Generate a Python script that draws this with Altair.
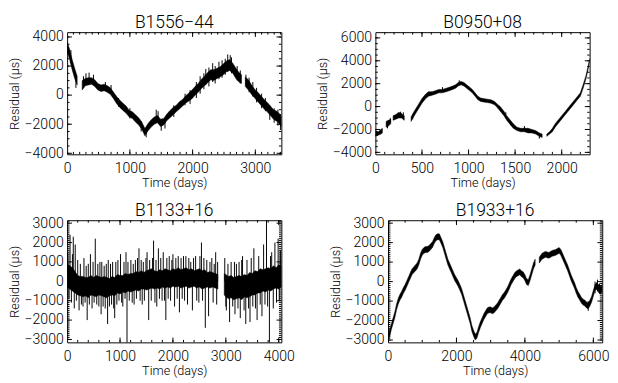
import altair as alt
import pandas as pd

# ---------------- data ----------------
# B1556-44 : envelope (low / high) of the residual trace, plus single spikes
p1_t  = [0, 40, 80, 120, 160,
         240, 290, 340, 390, 440, 490, 540, 590, 640, 690, 740, 790, 840, 890, 940, 990,
         1040, 1090, 1140, 1190, 1240, 1290, 1340, 1390, 1440, 1490, 1540, 1590, 1640, 1690,
         1740, 1790, 1840, 1890, 1940, 1990, 2040, 2090, 2140, 2190, 2240, 2290, 2340, 2390,
         2440, 2490, 2540, 2590, 2640, 2690, 2740, 2780,
         2840, 2890, 2940, 2990, 3040, 3090, 3140, 3190, 3240, 3290, 3340, 3390, 3415]
p1_lo = [3000, 2450, 1750, 1150, 700,
         350, 650, 700, 750, 600, 350, 250, 300, 200, 50, -250, -600, -850, -1050, -1250, -1500,
         -1600, -1850, -2050, -2350, -2800, -2450, -2200, -2000, -1900, -2150, -2050, -1750, -1550, -1350,
         -1150, -950, -750, -550, -400, -250, 0, 200, 450, 650, 850, 1050, 1000, 1150,
         1250, 1400, 1600, 1700, 1500, 1150, 900, 800,
         600, 350, 50, -200, -450, -700, -950, -1150, -1400, -1650, -1800, -2000, -2200]
p1_hi = [3650, 3150, 2450, 1850, 1300,
         1000, 1150, 1200, 1200, 1050, 800, 700, 750, 650, 500, 200, -100, -350, -550, -750, -1050,
         -1150, -1350, -1550, -1850, -2300, -1950, -1700, -1500, -1400, -1650, -1600, -1300, -1050, -850,
         -700, -450, -300, -50, 150, 350, 600, 800, 1100, 1300, 1550, 1750, 1750, 1850,
         1950, 2150, 2350, 2450, 2200, 1850, 1550, 1400,
         1250, 1050, 700, 400, 200, -50, -300, -500, -750, -1000, -1100, -1300, -1500]
p1_breaks = [240, 2840]
p1_spk_t  = [60, 140, 260, 300, 350, 420, 610, 700, 820, 1000, 1180, 1260, 1420, 1450, 1500, 1560,
             1700, 1880, 1960, 2060, 2120, 2180, 2210, 2260, 2320, 2360, 2420, 2470, 2520, 2560,
             2600, 2620, 2710, 2760, 2850, 2900, 2960, 3020, 3100, 3160, 3230, 3300, 3360, 3400]
p1_spk_y1 = [2200, 500, 700, 900, 900, 700, 300, 100, -800, -1600, -2500, -2900, -1800, -1800,
             -2450, -2300, -1500, -700, -600, -200, 100, 400, 700, 600, 900, 800, 1100, 1200, 1400,
             1600, 1700, 1500, 1000, 800, 700, 200, -100, -500, -900, -1100, -1700, -1900, -2100, -2400]
p1_spk_y2 = [3100, 1100, 1300, 1500, 1550, 1400, 900, 700, -200, -900, -1800, -2400, -1000, -1100,
             -1800, -1700, -700, 100, 350, 900, 1300, 1500, 1800, 1900, 2200, 2000, 2300, 2400, 2500,
             2800, 2750, 2600, 2000, 1700, 1400, 1200, 900, 500, 100, -200, -700, -900, -1000, -1300]

# B0950+08
p2_t  = [0, 30, 60, 75,
         115, 140, 165,
         190, 220, 250, 280, 310,
         383, 410, 440, 470, 500, 540, 570, 610, 650, 680, 720, 760, 800, 830, 860, 890, 920, 950,
         980, 1010, 1040, 1070, 1100, 1130, 1160, 1200, 1240, 1280, 1310, 1340, 1380, 1410, 1450,
         1480, 1520, 1560, 1600, 1640, 1680, 1720, 1760, 1790,
         1840, 1870, 1900, 1930, 1960, 2000, 2040, 2080, 2120, 2160, 2200, 2230, 2260, 2280, 2300]
p2_lo = [-2600, -2500, -2400, -2300,
         -1800, -1700, -1500,
         -1200, -1100, -1000, -1000, -1200,
         -1300, -900, -500, -100, 300, 700, 900, 1000, 1100, 1200, 1200, 1300, 1400, 1500, 1600, 1800, 1900, 1800,
         1600, 1400, 1200, 900, 600, 450, 400, 350, 300, 150, -100, -400, -800, -1200, -1600,
         -1900, -2100, -2200, -2200, -2300, -2300, -2400, -2600, -2700,
         -2600, -2400, -2200, -1800, -1500, -1100, -700, -300, 100, 500, 900, 1600, 2400, 3100, 3900]
p2_hi = [-2100, -2200, -2000, -1900,
         -1300, -1200, -1100,
         -800, -700, -500, -600, -800,
         -900, -500, -100, 300, 700, 1100, 1300, 1300, 1400, 1500, 1500, 1600, 1700, 1800, 1900, 2100, 2200, 2100,
         1900, 1700, 1500, 1200, 900, 750, 700, 650, 600, 450, 200, 0, -400, -800, -1200,
         -1500, -1800, -1900, -1900, -1900, -2000, -2100, -2300, -2400,
         -2400, -2200, -1900, -1500, -1200, -800, -400, 0, 400, 800, 1200, 1900, 2700, 3400, 4200]
p2_breaks = [115, 190, 383, 1840]
p2_spk_t  = [130, 160, 270, 300, 400, 720, 900, 1400, 1600, 1760]
p2_spk_y1 = [-1500, -1400, -800, -900, -1100, 1300, 2000, -700, -2000, -2500]
p2_spk_y2 = [-1900, -1000, -450, -500, -700, 1700, 2300, -500, -1700, -2800]

# B1133+16 : core band plus the many single excursions (drawn from zero)
p3_t  = [0, 50, 100, 150, 200, 250, 300, 350, 400, 450, 500, 550, 600, 650, 700, 750, 800, 850,
         900, 950, 1000, 1050, 1100, 1150, 1200, 1250, 1300, 1350, 1400, 1450, 1500, 1550, 1600,
         1650, 1700, 1750, 1800, 1850, 1900, 1950, 2000, 2050, 2100, 2150, 2200, 2250, 2300, 2350,
         2400, 2450, 2500, 2550, 2600, 2650, 2700, 2750, 2800, 2850,
         2970, 3000, 3050, 3100, 3150, 3200, 3250, 3300, 3350, 3400, 3450, 3500, 3550, 3600, 3650,
         3700, 3750, 3800, 3850, 3900, 3950, 4000, 4050]
p3_lo = [-300, -400, -500, -600, -700, -750, -800, -750, -850, -700, -750, -800, -700, -750, -800,
         -850, -750, -700, -750, -600, -650, -550, -600, -500, -550, -500, -450, -500, -400, -400,
         -450, -400, -350, -400, -350, -400, -300, -350, -300, -350, -250, -300, -250, -350, -300,
         -250, -350, -300, -250, -350, -300, -400, -350, -300, -350, -300, -350, -400,
         -700, -800, -900, -850, -950, -900, -850, -950, -800, -850, -800, -700, -700, -600, -600,
         -500, -550, -450, -500, -400, -350, -400, -300]
p3_hi = [900, 800, 700, 500, 300, 250, 250, 200, 200, 300, 200, 300, 250, 200, 250, 200, 150, 250,
         200, 350, 300, 300, 400, 350, 400, 400, 500, 450, 550, 450, 550, 600, 650, 550, 500, 600,
         550, 650, 600, 550, 650, 600, 700, 600, 650, 700, 600, 650, 550, 600, 650, 550, 600, 450,
         500, 450, 400, 350,
         400, 350, 250, 300, 200, 250, 300, 250, 350, 300, 450, 400, 550, 500, 650, 600, 650, 700,
         650, 800, 700, 850, 800]
p3_breaks = [2970]
p3_spk_t = [10, 35, 55, 80, 100, 116, 135, 153, 175, 200, 226, 250, 270, 300, 318, 340, 360, 379,
            400, 420, 440, 471, 490, 510, 532, 560, 580, 600, 620, 642, 655, 680, 700, 720, 740,
            765, 777, 800, 820, 840, 860, 880, 899, 920, 940, 960, 980, 1009, 1030, 1052, 1075,
            1095, 1113, 1132, 1150, 1175, 1205, 1230, 1250, 1266, 1290, 1310, 1330, 1358, 1380,
            1400, 1419, 1440, 1460, 1490, 1511, 1542, 1560, 1590, 1615, 1634, 1660, 1680, 1695,
            1725, 1745, 1770, 1795, 1817, 1840, 1866, 1885, 1910, 1930, 1955, 1980, 2000, 2031,
            2055, 2080, 2100, 2123, 2154, 2175, 2200, 2220, 2245, 2276, 2300, 2337, 2368, 2390,
            2429, 2450, 2490, 2510, 2539, 2560, 2585, 2612, 2640, 2674, 2700, 2735, 2760, 2780,
            2808, 2827, 2845,
            2980, 3000, 3010, 3040, 3071, 3100, 3130, 3163, 3173, 3200, 3230, 3250, 3273, 3300,
            3316, 3345, 3377, 3400, 3430, 3457, 3480, 3510, 3530, 3560, 3591, 3622, 3650, 3683,
            3714, 3740, 3769, 3790, 3824, 3845, 3867, 3897, 3928, 3958, 3989, 4010, 4032]
p3_spk_v = [1500, -900, 2400, -1100, 1400, 2300, -1400, 1900, -1000, 1100, -1500, 900, -1200,
            -1300, 1200, -1100, 800, -2000, 900, -1200, 1400, -1400, 1000, -1100, 2200, -1200,
            900, -1300, 1000, -1700, 1000, -1300, 800, -1400, 900, -2200, 1100, -1300, 900, -1200,
            1000, -1400, -1900, 1000, -1200, 1100, -1000, 1400, -1100, -1300, 1000, -900, 1500,
            -3200, 1000, -1000, 1100, -1100, 900, -1200, 1100, -900, 1200, 1700, -1000, 1100,
            -1200, 1000, -1000, 1200, 1500, -2000, 1100, -1000, 1200, 2100, -1100, 1100, -1300,
            1700, -900, 1200, -1000, 1500, -1000, -2000, 1200, -900, 1300, -1000, 1100, 1400,
            -1300, 1200, -900, 1300, -1600, 1200, -900, 1300, -1000, 1300, -1200, 1200, 1000,
            -1500, 1200, 1300, -1000, -1100, 1300, 2000, -1000, 1200, -2400, 1100, -1800, 1000,
            1200, -1100, 900, 1500, -1200, 1000,
            1200, -1300, -1500, 900, -2100, 1000, -1300, 1000, -1700, 900, -1400, 1000, -1900,
            1100, 1300, -1500, -2200, 1100, -1400, -2100, 1200, -1300, 1700, -1400, -2000, 1300,
            -1200, -1800, 1900, -1200, 3200, -1300, -3200, 1300, 1500, -1400, 2000, -1100, 2200,
            -1000, 1600]

# B1933+16
p4_t  = [0, 50, 100, 150, 200, 250, 300, 350, 400, 450, 500, 550, 600, 650, 700, 750, 800, 850,
         900, 950, 1000, 1050, 1100, 1150, 1200, 1250, 1300, 1350, 1400, 1450, 1500, 1550, 1600,
         1650, 1700, 1750, 1800, 1850, 1900, 1950, 2000, 2050, 2100, 2150, 2200, 2250, 2300, 2350,
         2400, 2450, 2500, 2550, 2600, 2650, 2700, 2750, 2800, 2850, 2900, 2950, 3000, 3050, 3100,
         3150, 3200, 3250, 3300, 3350, 3400, 3450, 3500, 3550, 3600, 3650, 3700, 3750, 3800, 3850,
         3900, 3950, 4000, 4050, 4100, 4150, 4200, 4250, 4300,
         4420, 4500, 4600, 4700, 4800, 4900, 5000, 5050, 5100, 5150, 5200, 5250, 5300, 5350, 5400,
         5450, 5500, 5550, 5600, 5650, 5700, 5750, 5800, 5850, 5900, 5950, 6000, 6050, 6100, 6150,
         6200, 6250]
p4_lo = [-3100, -2800, -2450, -2150, -1850, -1450, -1150, -950, -800, -600, -450, -250, -50, 150,
         350, 450, 550, 650, 850, 1150, 1350, 1450, 1500, 1500, 1550, 1650, 1750, 1950, 2100, 2150,
         2150, 1950, 1750, 1450, 1150, 850, 650, 450, 250, 50, -100, -250, -450, -650, -950, -1250,
         -1550, -1850, -2150, -2550, -2800, -3000, -2900, -2600, -2350, -2150, -1950, -1800, -1650,
         -1600, -1600, -1650, -1600, -1500, -1400, -1250, -1100, -950, -850, -700, -550, -350, -150,
         0, 150, 250, 300, 350, 250, 200, 50, -150, -200, 50, 350, 650, 850,
         950, 1150, 1250, 1200, 1300, 1350, 1450, 1350, 1150, 950, 750, 550, 300, 50, -150, -350,
         -600, -800, -950, -1100, -1200, -1250, -1350, -1400, -1250, -1050, -750, -450, -400, -550,
         -650, -550]
p4_hi = [-2900, -2450, -2150, -1850, -1550, -1150, -850, -650, -500, -300, -150, 50, 250, 450, 650,
         750, 850, 950, 1150, 1450, 1650, 1750, 1800, 1800, 1850, 1950, 2050, 2250, 2400, 2450, 2450,
         2250, 2050, 1750, 1450, 1150, 950, 750, 550, 350, 200, 50, -150, -350, -650, -950, -1250,
         -1550, -1850, -2250, -2500, -2700, -2600, -2300, -2050, -1850, -1650, -1500, -1350, -1300,
         -1300, -1350, -1300, -1200, -1100, -950, -800, -650, -550, -400, -250, -50, 150, 300, 450,
         550, 600, 650, 550, 500, 350, 150, 100, 350, 650, 950, 1150,
         1250, 1450, 1550, 1500, 1600, 1650, 1750, 1650, 1450, 1250, 1050, 850, 600, 350, 150, -50,
         -300, -500, -650, -800, -900, -950, -1050, -1100, -950, -750, -450, -150, -50, -150, -250,
         -150]
p4_breaks = [4420]
p4_spk_t  = [6050, 6120, 6180, 5850]
p4_spk_y1 = [-600, -500, -600, -1500]
p4_spk_y2 = [0, 100, -100, -1000]

titles = ["B1556\u221244", "B0950+08", "B1133+16", "B1933+16"]

# ---------------- helpers ----------------
W, H = 221, 126
MAJ, MINL = 5, 2.5
FONT = "Roboto"
LBL = dict(labelFont=FONT, labelFontSize=14.5, labelFontWeight=300, labelColor="black",
           titleFont=FONT, titleFontSize=13, titleFontWeight=300, titleColor="black",
           ticks=False, domain=False, grid=False, labelFlush=False, labelOverlap=False, format="d")


def seg_of(t, breaks):
    return [sum(1 for b in breaks if ti >= b) for ti in t]


def panel(title, t, lo, hi, breaks, spk, xdom, ydom, xmaj, xminor, ymaj, yminor):
    core = pd.DataFrame({"t": t, "lo": lo, "hi": hi, "seg": seg_of(t, breaks)})
    xs = alt.Scale(domain=xdom, nice=False, zero=False)
    ys = alt.Scale(domain=ydom, nice=False, zero=False)
    xax = alt.Axis(values=xmaj, title="Time  (days)", labelPadding=8, titlePadding=2, **LBL)
    yax = alt.Axis(values=ymaj, title="Residual (μs)", labelPadding=4, titlePadding=3, **LBL)
    band = alt.Chart(core).mark_area(color="black", stroke="black", strokeWidth=0.5, clip=True).encode(
        x=alt.X("t:Q", scale=xs, axis=xax),
        y=alt.Y("lo:Q", scale=ys, axis=yax),
        y2="hi:Q",
        detail="seg:N",
    )
    spikes = alt.Chart(spk).mark_rule(color="black", strokeWidth=1, clip=True).encode(
        x=alt.X("t:Q", scale=xs, axis=xax),
        y=alt.Y("y1:Q", scale=ys, axis=yax),
        y2="y2:Q",
    )
    head = alt.Chart(pd.DataFrame({"name": [title]})).mark_text(
        font=FONT, fontSize=18, fontWeight=300, baseline="alphabetic", align="center", color="black"
    ).encode(text="name:N", x=alt.value(W / 2), y=alt.value(-4))
    xt_major = pd.DataFrame({"t": [v for v in xmaj if xdom[0] < v < xdom[1]]})
    xt_minor = pd.DataFrame({"t": [v for v in xminor if xdom[0] < v < xdom[1]]})
    yt_major = pd.DataFrame({"lo": [v for v in ymaj if ydom[0] < v < ydom[1]]})
    yt_minor = pd.DataFrame({"lo": [v for v in yminor if ydom[0] < v < ydom[1]]})
    layers = [band, spikes]
    for df, L in ((xt_major, MAJ), (xt_minor, MINL)):
        for y0, y1 in ((H, H - L), (0, L)):
            layers.append(alt.Chart(df).mark_rule(color="black", strokeWidth=1).encode(
                x=alt.X("t:Q", scale=xs, axis=xax), y=alt.value(y0), y2=alt.value(y1)))
    for df, L in ((yt_major, MAJ), (yt_minor, MINL)):
        for x0, x1 in ((0, L), (W, W - L)):
            layers.append(alt.Chart(df).mark_rule(color="black", strokeWidth=1).encode(
                y=alt.Y("lo:Q", scale=ys, axis=yax), x=alt.value(x0), x2=alt.value(x1)))
    layers.append(head)
    return alt.layer(*layers).properties(width=W, height=H)


def spk3(t, y1, y2):
    return pd.DataFrame({"t": t, "y1": y1, "y2": y2})


c1 = panel(titles[0], p1_t, p1_lo, p1_hi, p1_breaks, spk3(p1_spk_t, p1_spk_y1, p1_spk_y2),
           [0, 3415], [-4070, 4330], [0, 1000, 2000, 3000], list(range(0, 3415, 100)),
           [-4000, -2000, 0, 2000, 4000], list(range(-4000, 4330, 500)))
c2 = panel(titles[1], p2_t, p2_lo, p2_hi, p2_breaks, spk3(p2_spk_t, p2_spk_y1, p2_spk_y2),
           [0, 2300], [-4170, 6500], [0, 500, 1000, 1500, 2000], list(range(0, 2300, 100)),
           [-4000, -2000, 0, 2000, 4000, 6000], list(range(-4000, 6500, 500)))
c3 = panel(titles[2], p3_t, p3_lo, p3_hi, p3_breaks,
           spk3(p3_spk_t, [0] * len(p3_spk_t), p3_spk_v),
           [0, 4050], [-3150, 3150], [0, 1000, 2000, 3000, 4000], list(range(0, 4050, 200)),
           [-3000, -2000, -1000, 0, 1000, 2000, 3000], list(range(-3000, 3150, 100)))
c4 = panel(titles[3], p4_t, p4_lo, p4_hi, p4_breaks, spk3(p4_spk_t, p4_spk_y1, p4_spk_y2),
           [0, 6260], [-3120, 3150], [0, 2000, 4000, 6000], list(range(0, 6260, 500)),
           [-3000, -2000, -1000, 0, 1000, 2000, 3000], list(range(-3000, 3150, 100)))

chart = alt.vconcat(
    alt.hconcat(c1, c2, spacing=35),
    alt.hconcat(c3, c4, spacing=35),
    spacing=12,
).properties(
    padding=0,
    background="white",
).configure_view(
    stroke="black", strokeWidth=1
)

chart.save("out.html", embed_options={"renderer": "svg", "actions": False})
